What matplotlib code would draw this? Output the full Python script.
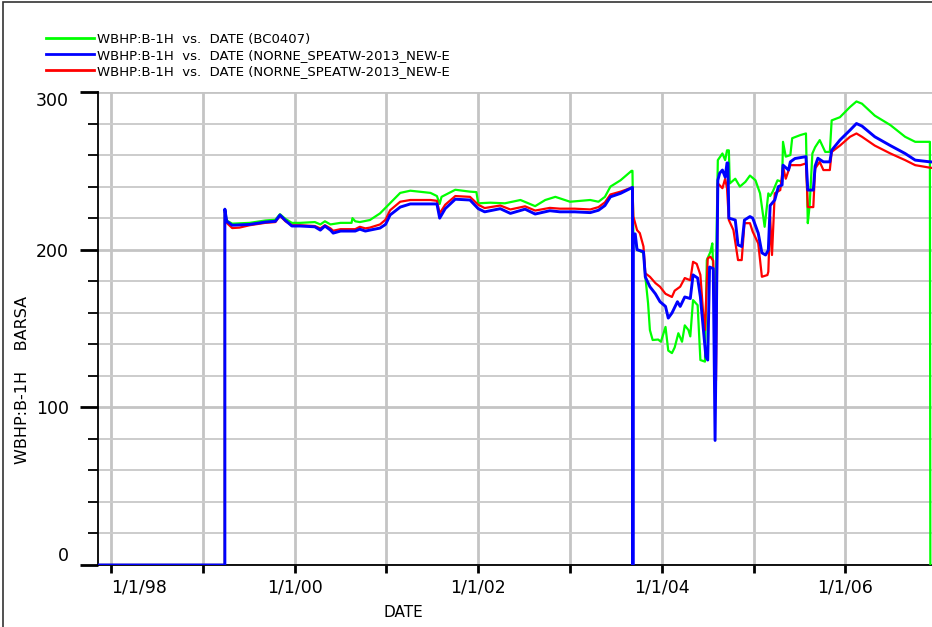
import numpy as np
import matplotlib.pyplot as plt
from matplotlib.ticker import MultipleLocator, FuncFormatter
from matplotlib.patches import Rectangle

# decimal years / bars
t_green = [1997.80, 1999.24, 1999.24, 1999.26, 1999.32, 1999.51, 1999.68, 1999.79, 1999.84, 1999.90,
           1999.97, 2000.06, 2000.22, 2000.28, 2000.33, 2000.39, 2000.50, 2000.62, 2000.63, 2000.66,
           2000.71, 2000.82, 2000.93, 2001.04, 2001.15, 2001.26, 2001.48, 2001.55, 2001.58, 2001.60,
           2001.75, 2001.91, 2001.98, 2002.00, 2002.13, 2002.29, 2002.46, 2002.62, 2002.73, 2002.84,
           2003.00, 2003.22, 2003.31, 2003.38, 2003.44, 2003.55, 2003.67, 2003.68, 2003.69, 2003.73,
           2003.80, 2003.82, 2003.85, 2003.87, 2003.90, 2003.96, 2003.99, 2004.04, 2004.07, 2004.11,
           2004.14, 2004.18, 2004.22, 2004.25, 2004.29, 2004.31, 2004.34, 2004.39, 2004.42, 2004.47,
           2004.49, 2004.53, 2004.55, 2004.58, 2004.61, 2004.66, 2004.69, 2004.71, 2004.73, 2004.74,
           2004.80, 2004.85, 2004.91, 2004.96, 2004.98, 2005.02, 2005.07, 2005.12, 2005.16, 2005.18,
           2005.21, 2005.26, 2005.31, 2005.32, 2005.35, 2005.40, 2005.42, 2005.51, 2005.57, 2005.59,
           2005.61, 2005.64, 2005.67, 2005.72, 2005.78, 2005.83, 2005.85, 2005.94, 2006.05, 2006.12,
           2006.18, 2006.32, 2006.49, 2006.65, 2006.76, 2006.89, 2006.92, 2006.925]
p_green = [0, 0, 225.7, 218.5, 216.5, 217, 218.5, 219, 222.5, 219.5,
           217, 217, 217.5, 216, 218, 216, 217, 217, 220, 218,
           217.5, 218.8, 223, 229.5, 236, 237.4, 236, 234, 229, 233.5,
           238, 236.8, 236.5, 229.4, 229.8, 229.4, 231.5, 227.6, 231.5, 233.5,
           230.4, 231.5, 230.4, 233.5, 240, 244, 250, 250, 210, 200,
           198, 183, 166, 149, 142.7, 143, 141.6, 151, 136, 134.4,
           138, 147, 141.6, 152, 149, 145, 168, 164.8, 130, 129,
           193.4, 198.7, 204, 150, 256.8, 261, 256.8, 263, 263, 242,
           245, 240, 243, 247, 246, 244, 235.7, 214.5, 235.7, 234,
           237, 244, 243, 268.4, 259, 260, 270.7, 272.7, 273.7, 216.8,
           228, 261, 265, 269.5, 262, 262, 282, 284, 290.5, 294,
           292.6, 285, 279, 271.6, 268.4, 268.4, 268.4, 0]

t_blue = [1997.80, 1999.24, 1999.24, 1999.26, 1999.32, 1999.51, 1999.68, 1999.79, 1999.84, 1999.90,
          1999.97, 2000.06, 2000.22, 2000.28, 2000.33, 2000.39, 2000.42, 2000.50, 2000.66, 2000.71,
          2000.77, 2000.82, 2000.93, 2000.99, 2001.04, 2001.15, 2001.26, 2001.55, 2001.58, 2001.64,
          2001.75, 2001.91, 2002.00, 2002.07, 2002.24, 2002.35, 2002.51, 2002.62, 2002.78, 2002.89,
          2003.05, 2003.22, 2003.31, 2003.38, 2003.44, 2003.55, 2003.68, 2003.685, 2003.69, 2003.71,
          2003.73, 2003.80, 2003.82, 2003.87, 2003.93, 2003.98, 2004.04, 2004.07, 2004.11, 2004.17,
          2004.20, 2004.25, 2004.31, 2004.34, 2004.39, 2004.42, 2004.45, 2004.48, 2004.50, 2004.52,
          2004.56, 2004.58, 2004.61, 2004.63, 2004.66, 2004.69, 2004.71, 2004.72, 2004.73, 2004.80,
          2004.83, 2004.87, 2004.90, 2004.96, 2004.99, 2005.05, 2005.09, 2005.13, 2005.16, 2005.18,
          2005.23, 2005.27, 2005.31, 2005.32, 2005.38, 2005.40, 2005.45, 2005.57, 2005.59, 2005.65,
          2005.67, 2005.70, 2005.76, 2005.83, 2005.85, 2005.94, 2006.05, 2006.12, 2006.18, 2006.32,
          2006.49, 2006.65, 2006.76, 2006.92, 2007.00]
p_blue = [0, 0, 225.7, 218, 215.5, 216, 217.5, 218, 222, 218.5,
          215, 215, 214.5, 212.4, 215, 212.4, 210.5, 211.8, 211.8, 213,
          211.8, 212.4, 213.7, 216, 222, 227, 229, 229, 220, 226,
          232, 231.5, 226, 224, 226, 223, 225.7, 222.6, 224.7, 224,
          224, 223.5, 225, 228, 233.5, 235.7, 239.5, 0, 210, 210,
          200, 198.7, 182.7, 176.5, 172, 167, 164, 156.6, 159.8, 167,
          164, 170, 169, 184, 182, 170, 151, 132, 130, 189,
          188, 79, 244, 248.5, 250.5, 246, 255, 255, 220, 218.8,
          203, 202, 218.8, 221, 220, 210.5, 198, 196.6, 199.7, 228,
          231.5, 240, 241, 253.6, 250.5, 255.7, 257.8, 259, 237.8, 237.8,
          253, 258, 255.7, 255.7, 263, 269.5, 275.8, 280, 278.4, 271.6,
          266, 261, 256.8, 255.7, 255.5]

t_red = [1997.80, 1999.24, 1999.24, 1999.26, 1999.32, 1999.40, 1999.51, 1999.68, 1999.79, 1999.84,
         1999.90, 1999.97, 2000.06, 2000.22, 2000.28, 2000.33, 2000.39, 2000.42, 2000.50, 2000.66,
         2000.71, 2000.77, 2000.82, 2000.93, 2000.99, 2001.04, 2001.15, 2001.26, 2001.48, 2001.55,
         2001.58, 2001.64, 2001.75, 2001.91, 2002.00, 2002.07, 2002.24, 2002.35, 2002.51, 2002.62,
         2002.78, 2002.89, 2003.05, 2003.22, 2003.31, 2003.38, 2003.44, 2003.55, 2003.68, 2003.69,
         2003.73, 2003.76, 2003.80, 2003.82, 2003.87, 2003.93, 2003.98, 2004.04, 2004.11, 2004.14,
         2004.20, 2004.25, 2004.31, 2004.34, 2004.38, 2004.42, 2004.45, 2004.47, 2004.50, 2004.53,
         2004.56, 2004.59, 2004.61, 2004.66, 2004.69, 2004.71, 2004.73, 2004.78, 2004.83, 2004.87,
         2004.90, 2004.96, 2004.99, 2005.05, 2005.09, 2005.15, 2005.16, 2005.18, 2005.20, 2005.23,
         2005.29, 2005.32, 2005.35, 2005.40, 2005.51, 2005.57, 2005.59, 2005.65, 2005.67, 2005.72,
         2005.76, 2005.83, 2005.85, 2005.94, 2006.05, 2006.12, 2006.18, 2006.32, 2006.49, 2006.65,
         2006.76, 2006.92, 2007.00]
p_red = [0, 0, 224, 217, 213.7, 214, 215.5, 217, 217.5, 221.5,
         218, 215.5, 215.5, 215, 213.5, 215.5, 213.5, 212, 213, 213,
         214.5, 213.5, 214, 216, 219, 225, 230.4, 231.5, 231.5, 231,
         223, 228.5, 234, 233.5, 228.5, 226.4, 228, 225.5, 227.5, 224.8,
         226.5, 226, 226, 225.5, 227, 230, 235, 236.8, 239.5, 221,
         212.4, 210.5, 202, 185, 182.8, 178.8, 176.5, 172, 170, 174,
         176.5, 182, 180.6, 192.3, 191, 184, 159.8, 149, 194.5, 195.5,
         193, 117, 242, 239, 245, 239, 218.8, 212.4, 193.4, 193.4,
         216.8, 216.8, 211.4, 204, 182.8, 183.9, 186, 221, 196.6, 235.7,
         237.8, 252.6, 245, 253.6, 253.6, 254.7, 227, 227, 251.5, 255.7,
         250.5, 250.5, 262, 266, 271.6, 273.7, 271.6, 266, 261, 256.8,
         253.6, 252, 251.5]

labels = ['WBHP:B-1H  vs.  DATE (BC0407)',
          'WBHP:B-1H  vs.  DATE (NORNE_SPEATW-2013_NEW-E',
          'WBHP:B-1H  vs.  DATE (NORNE_SPEATW-2013_NEW-E']

fig = plt.figure(figsize=(9.32, 6.27), dpi=100)
ax = fig.add_axes([98/932, 62/627, 834/932, 473/627])

lg, = ax.plot(t_green, p_green, color='#00ff00', lw=1.6, zorder=3)
lr, = ax.plot(t_red, p_red, color='#ff0000', lw=1.6, zorder=4)
lb, = ax.plot(t_blue, p_blue, color='#0000ff', lw=2.1, zorder=5)

ax.set_xlim(1997.858, 2006.943)
ax.set_ylim(0, 300)

ax.xaxis.set_major_locator(MultipleLocator(1))
ax.xaxis.set_major_formatter(FuncFormatter(
    lambda v, pos: '1/1/%02d' % (int(round(v)) % 100) if int(round(v)) % 2 == 0 else ''))
ax.yaxis.set_major_locator(MultipleLocator(100))
ax.yaxis.set_minor_locator(MultipleLocator(20))

ax.set_axisbelow(True)
ax.grid(axis='x', which='major', color='#c4c4c4', lw=2)
ax.grid(axis='y', which='major', color='#c4c4c4', lw=2)
ax.grid(axis='y', which='minor', color='#cccccc', lw=1.4)

for s in ['top', 'right']:
    ax.spines[s].set_visible(False)
for s in ['left', 'bottom']:
    ax.spines[s].set_linewidth(1.3)
    ax.spines[s].set_color('black')

ax.tick_params(axis='y', which='major', length=13, width=2, pad=8, labelsize=12.5, colors='black')
ax.tick_params(axis='y', which='minor', length=7, width=1.3)
ax.tick_params(axis='x', which='major', length=6, width=2, pad=4, labelsize=12.5)

ax.set_xlabel('DATE', fontsize=11)
ax.xaxis.set_label_coords((403 - 98) / 834, -0.085)
ax.set_ylabel('WBHP:B-1H    BARSA', fontsize=11.5)
ax.yaxis.set_label_coords(-0.0815, 0.391)

ax.legend([lg, lb, lr], labels, loc='upper left', bbox_to_anchor=(46/932, 1 - 33/627),
          bbox_transform=fig.transFigure, frameon=False, fontsize=9.5,
          handlelength=3.6, handletextpad=0.25, labelspacing=0.22,
          borderpad=0, borderaxespad=0)
for h in ax.get_legend().get_lines():
    h.set_linewidth(2)

fig.patches.append(Rectangle((3/932, -0.1), 1.2, 1.1 - 2/627, transform=fig.transFigure,
                             fill=False, ec='#333333', lw=1.2))

# edge labels nudged inward like the original
fig.canvas.draw()
yl = ax.get_yticklabels()
for lbl in yl:
    if lbl.get_text() == '0':
        lbl.set_va('bottom')
    elif lbl.get_text() == '300':
        lbl.set_va('top')
for lbl in ax.get_xticklabels():
    if lbl.get_text() == '1/1/98':
        lbl.set_ha('left')
        lbl.set_x(lbl.get_position()[0] - 0.12)

fig.savefig('out.png', dpi=100)
